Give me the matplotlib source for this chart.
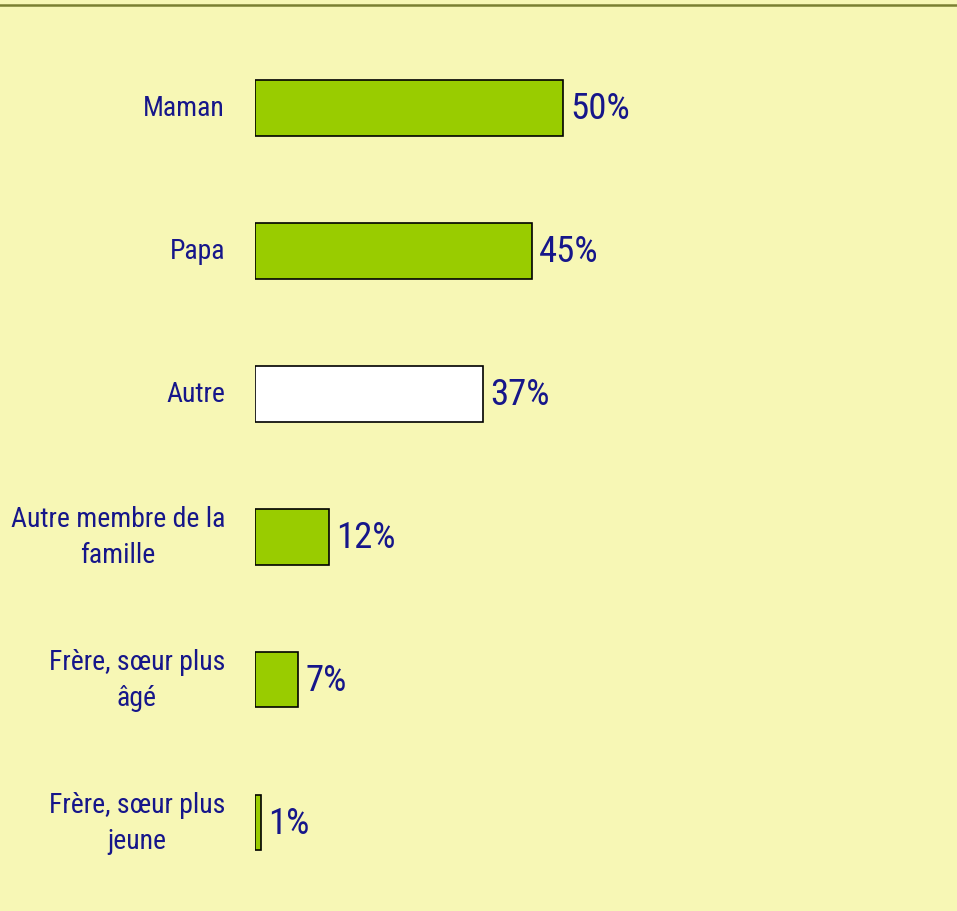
import matplotlib.pyplot as plt
from matplotlib.lines import Line2D

# donnees
categories = ["Maman", "Papa", "Autre", "Autre membre de la\nfamille",
              "Frère, sœur plus\nâgé", "Frère, sœur plus\njeune"]
valeurs = [50, 45, 37, 12, 7, 1]
couleurs = ["#99CC00", "#99CC00", "#FFFFFF", "#99CC00", "#99CC00", "#99CC00"]

fond = "#F7F7B5"
bleu = "#16168A"
police = ["Roboto Condensed", "Liberation Sans"]

W, H = 957, 912
fig = plt.figure(figsize=(W / 100, H / 100), dpi=100, facecolor=fond)

# axe invisible : 0 % a x=255 px, 6.16 px par %
ax = fig.add_axes([255 / W, 1 - 895 / H, 616 / W, (895 - 37.5) / H])
ax.set_facecolor("none")
pos = list(range(len(categories)))
ax.barh(pos, valeurs, height=0.39, color=couleurs, edgecolor="black", linewidth=1.2)
ax.set_xlim(0, 100)
ax.set_ylim(len(categories) - 0.5, -0.5)
ax.axis("off")

for i, (c, v) in enumerate(zip(categories, valeurs)):
    ax.annotate(c, xy=(0, i), xytext=(-30, 0), textcoords="offset pixels",
                ha="right", va="center", multialignment="center", color=bleu,
                fontsize=20, family=police, fontstretch="condensed", linespacing=1.42)
    ax.annotate(f"{v}%", xy=(v, i), xytext=(7, 0), textcoords="offset pixels",
                ha="left", va="center", color=bleu,
                fontsize=26.5, family=police, fontstretch="condensed")

# trait du haut
fig.add_artist(Line2D([0, 1], [1 - 6 / H, 1 - 6 / H], transform=fig.transFigure,
                      color="#7A8032", linewidth=1.8))

fig.savefig("out.png", dpi=100, facecolor=fond)
